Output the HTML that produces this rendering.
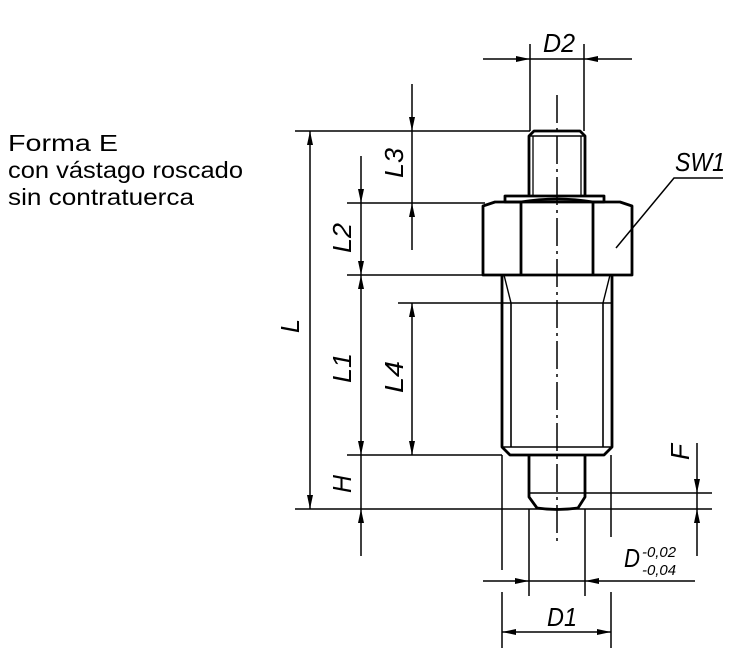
<!DOCTYPE html>
<html><head><meta charset="utf-8"><style>
html,body{margin:0;padding:0;background:#fff;}
svg{display:block;}
text{font-family:"Liberation Sans",sans-serif;fill:#000;}
.l{font-style:italic;font-size:26px;}
</style></head><body>
<svg width="750" height="653" viewBox="0 0 750 653" xmlns="http://www.w3.org/2000/svg">
<defs>
<marker id="a" viewBox="0 0 14 6" refX="14" refY="3" markerWidth="14" markerHeight="6" orient="auto" markerUnits="userSpaceOnUse"><path d="M0,0 L14,3 L0,6 z" fill="#000"/></marker>
</defs>
<g font-size="23">
<text x="8" y="151" textLength="110" lengthAdjust="spacingAndGlyphs">Forma E</text>
<text x="8" y="178" textLength="235" lengthAdjust="spacingAndGlyphs">con vástago roscado</text>
<text x="8" y="205" textLength="186" lengthAdjust="spacingAndGlyphs">sin contratuerca</text>
</g>
<g stroke="#000" stroke-width="1.5" fill="none">
<line x1="295" y1="131" x2="530" y2="131"/>
<line x1="347" y1="203" x2="485" y2="203"/>
<line x1="347" y1="275" x2="483" y2="275"/>
<line x1="398" y1="303" x2="613" y2="303"/>
<line x1="347" y1="455" x2="502" y2="455"/>
<line x1="295" y1="509" x2="712" y2="509"/>
<line x1="585" y1="493" x2="712" y2="493"/>
<line x1="530" y1="44" x2="530" y2="131"/>
<line x1="584" y1="44" x2="584" y2="131"/>
<line x1="502" y1="455" x2="502" y2="570"/>
<line x1="502" y1="592" x2="502" y2="648"/>
<line x1="611" y1="455" x2="611" y2="537"/>
<line x1="611" y1="592" x2="611" y2="648"/>
<line x1="529" y1="509" x2="529" y2="596"/>
<line x1="585" y1="509" x2="585" y2="596"/>
<line x1="483" y1="59" x2="530" y2="59" marker-end="url(#a)"/>
<line x1="632" y1="59" x2="584" y2="59" marker-end="url(#a)"/>
<line x1="530" y1="59" x2="584" y2="59"/>
<line x1="310" y1="320" x2="310" y2="131" marker-end="url(#a)"/>
<line x1="310" y1="320" x2="310" y2="509" marker-end="url(#a)"/>
<line x1="412" y1="84" x2="412" y2="131" marker-end="url(#a)"/>
<line x1="412" y1="250" x2="412" y2="203" marker-end="url(#a)"/>
<line x1="412" y1="131" x2="412" y2="203"/>
<line x1="361" y1="156" x2="361" y2="203" marker-end="url(#a)"/>
<line x1="361" y1="240" x2="361" y2="275" marker-end="url(#a)"/>
<line x1="361" y1="240" x2="361" y2="203"/>
<line x1="361" y1="365" x2="361" y2="275" marker-end="url(#a)"/>
<line x1="361" y1="365" x2="361" y2="455" marker-end="url(#a)"/>
<line x1="361" y1="556" x2="361" y2="509" marker-end="url(#a)"/>
<line x1="361" y1="455" x2="361" y2="509"/>
<line x1="412" y1="380" x2="412" y2="303" marker-end="url(#a)"/>
<line x1="412" y1="380" x2="412" y2="455" marker-end="url(#a)"/>
<line x1="697" y1="443" x2="697" y2="493" marker-end="url(#a)"/>
<line x1="697" y1="556" x2="697" y2="509" marker-end="url(#a)"/>
<line x1="697" y1="493" x2="697" y2="509"/>
<line x1="483" y1="581" x2="529" y2="581" marker-end="url(#a)"/>
<line x1="695" y1="581" x2="585" y2="581" marker-end="url(#a)"/>
<line x1="529" y1="581" x2="585" y2="581"/>
<line x1="556" y1="632" x2="502" y2="632" marker-end="url(#a)"/>
<line x1="556" y1="632" x2="611" y2="632" marker-end="url(#a)"/>
<polyline points="616,248 674,178 723,178"/>
<line x1="557" y1="95" x2="557" y2="545" stroke-dasharray="28,5,3,5"/>
</g>
<g stroke="#000" stroke-width="2.8" fill="none" stroke-linejoin="round">
<path d="M529,196 L529,136 L534,131 L580,131 L585,136 L585,196"/>
<line x1="529" y1="136" x2="585" y2="136" stroke-width="1.5"/>
<line x1="533" y1="136" x2="533" y2="196" stroke-width="1.3"/>
<line x1="581" y1="136" x2="581" y2="196" stroke-width="1.3"/>
<rect x="505" y="196" width="99" height="6"/>
<path d="M483,275 L483,206 L495,202 L521,202 Q557,196 593,202 L620,202 L632,206 L632,275 Z"/>
<line x1="521" y1="202" x2="521" y2="275"/>
<line x1="593" y1="202" x2="593" y2="275"/>
<path d="M502,275 L502,447 L510,455 L604,455 L612,447 L612,275"/>
<line x1="511" y1="303" x2="511" y2="447" stroke-width="1.6"/>
<line x1="603" y1="303" x2="603" y2="447" stroke-width="1.6"/>
<line x1="504" y1="275" x2="511" y2="303" stroke-width="1.4"/>
<line x1="610" y1="275" x2="603" y2="303" stroke-width="1.4"/>
<line x1="502" y1="447" x2="612" y2="447" stroke-width="1.6"/>
<path d="M529,455 L529,497 L537,508 Q557,511 578,508 L585,497 L585,455"/>
<line x1="529" y1="493" x2="585" y2="493" stroke-width="1.5"/>
</g>
<text class="l" x="543" y="52" textLength="32" lengthAdjust="spacingAndGlyphs">D2</text>
<text class="l" x="675" y="171" textLength="50" lengthAdjust="spacingAndGlyphs">SW1</text>
<text class="l" x="547" y="626" textLength="30" lengthAdjust="spacingAndGlyphs">D1</text>
<text class="l" x="624" y="567" textLength="16" lengthAdjust="spacingAndGlyphs">D</text>
<text x="642" y="557" font-size="15" font-style="italic" textLength="34" lengthAdjust="spacingAndGlyphs">-0,02</text>
<text x="642" y="575" font-size="15" font-style="italic" textLength="34" lengthAdjust="spacingAndGlyphs">-0,04</text>
<text class="l" transform="translate(299,333) rotate(-90)" textLength="14" lengthAdjust="spacingAndGlyphs">L</text>
<text class="l" transform="translate(403,178) rotate(-90)" textLength="30" lengthAdjust="spacingAndGlyphs">L3</text>
<text class="l" transform="translate(351,253) rotate(-90)" textLength="30" lengthAdjust="spacingAndGlyphs">L2</text>
<text class="l" transform="translate(351,383) rotate(-90)" textLength="30" lengthAdjust="spacingAndGlyphs">L1</text>
<text class="l" transform="translate(403,393) rotate(-90)" textLength="32" lengthAdjust="spacingAndGlyphs">L4</text>
<text class="l" transform="translate(351,493) rotate(-90)" textLength="18" lengthAdjust="spacingAndGlyphs">H</text>
<text class="l" transform="translate(689,460) rotate(-90)" textLength="16" lengthAdjust="spacingAndGlyphs">F</text>
</svg>
</body></html>
